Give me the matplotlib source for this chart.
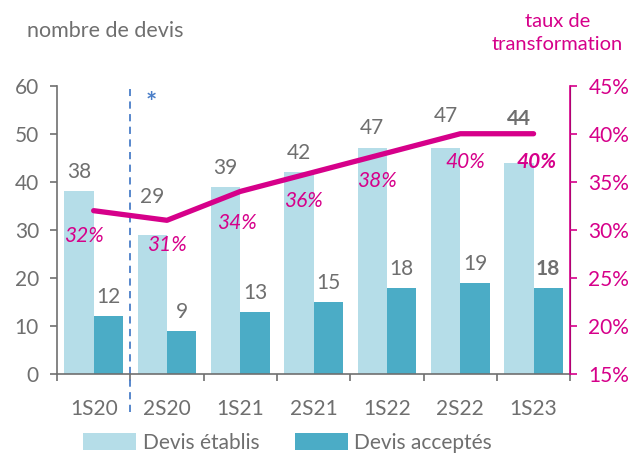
import numpy as np
import matplotlib.pyplot as plt
from matplotlib.transforms import blended_transform_factory

# donnees
periodes = ['1S20', '2S20', '1S21', '2S21', '1S22', '2S22', '1S23']
devis_etablis = [38, 29, 39, 42, 47, 47, 44]
devis_acceptes = [12, 9, 13, 15, 18, 19, 18]
taux = [32, 31, 34, 36, 38, 40, 40]

# couleurs
gris = '#6F6F6F'
bleu_clair = '#B5DDE8'
bleu_fonce = '#4BACC6'
magenta = '#D6008A'

plt.rcParams['font.family'] = ['Lato', 'DejaVu Sans']
plt.rcParams['font.size'] = 15

fig = plt.figure(figsize=(6.36, 4.58), dpi=100)
ax = fig.add_axes([0.0896, 0.183, 0.807, 0.630])
ax2 = ax.twinx()

x = np.arange(len(periodes))
w = 0.4
b1 = ax.bar(x - w / 2, devis_etablis, w, color=bleu_clair, label='Devis établis')
b2 = ax.bar(x + w / 2, devis_acceptes, w, color=bleu_fonce, label='Devis acceptés')

# etiquettes des barres (la derniere en gras), decalage vertical en pixels
n = len(periodes)
dy_etablis = [19, 38, 19, 19, 20, 32, 44]
for i in range(n):
    poids = 'bold' if i == n - 1 else 'normal'
    ax.annotate(str(devis_etablis[i]), (x[i] - w / 2, devis_etablis[i]),
                xytext=(0, dy_etablis[i] * 0.72), textcoords='offset points',
                ha='center', va='center', color=gris, fontsize=15,
                fontweight=poids)
    ax.annotate(str(devis_acceptes[i]), (x[i] + w / 2, devis_acceptes[i]),
                xytext=(0, 19 * 0.72), textcoords='offset points', ha='center',
                va='center', color=gris, fontsize=15, fontweight=poids)

ax.set_ylim(0, 60)
ax.set_xlim(-0.5, n - 0.5)
ax.set_yticks(range(0, 61, 10))
ax.set_xticks(x)
ax.set_xticklabels(periodes)
ax.set_xticks(np.arange(-0.5, n, 1), minor=True)
ax.tick_params(axis='x', which='major', length=0, pad=18, colors=gris)
ax.tick_params(axis='x', which='minor', length=5, color=gris, width=1.2)
ax.tick_params(axis='y', length=5, width=1.2, colors=gris, pad=8)

for s in ['top']:
    ax.spines[s].set_visible(False)
    ax2.spines[s].set_visible(False)
ax.spines['left'].set_color(gris)
ax.spines['bottom'].set_color(gris)
ax.spines['left'].set_linewidth(1.2)
ax.spines['bottom'].set_linewidth(1.2)
ax2.spines['left'].set_visible(False)
ax2.spines['bottom'].set_visible(False)
ax2.spines['right'].set_color(magenta)
ax2.spines['right'].set_linewidth(1.2)

# courbe du taux
ax2.plot(x, taux, color=magenta, lw=3.8, solid_capstyle='round', zorder=5)
ax2.set_ylim(15, 45)
ax2.set_yticks(range(15, 46, 5))
ax2.set_yticklabels([f'{t}%' for t in range(15, 46, 5)])
ax2.tick_params(axis='y', length=5, width=1.2, color=magenta,
                labelcolor=magenta, pad=8)

# decalages des etiquettes de taux (pixels)
dx = [-10, 0, -3, -10, -10, 5, 3]
dy = [-25, -25, -32, -29, -28, -28, -28]
for i in range(n):
    poids = 'bold' if i == n - 1 else 'normal'
    ax2.annotate(f'{taux[i]}%', (x[i], taux[i]), xytext=(dx[i] * 0.72, dy[i] * 0.72),
                 textcoords='offset points', ha='center', va='center',
                 color=magenta, fontsize=15, style='italic', fontweight=poids,
                 zorder=6)

# ligne pointillee + asterisque
tr = blended_transform_factory(ax.transData, ax.transAxes)
ax.plot([0.5, 0.5], [-0.13, 0.99], transform=tr, ls=(0, (4, 3)),
        color='#4A7EC8', lw=1.3, clip_on=False)
ax.text(0.78, 0.94, '*', transform=tr, color='#4A7EC8', fontsize=19,
        fontweight='bold', ha='center', va='center')

# titres des axes
fig.text(0.042, 0.932, 'nombre de devis', color=gris, fontsize=15.5,
         ha='left', va='center')
fig.text(0.876, 0.928, 'taux de\ntransformation', color=magenta, fontsize=14.5,
         ha='center', va='center', linespacing=1.45)

fig.legend(handles=[b1, b2], loc='center', bbox_to_anchor=(0.452, 0.033),
           ncol=2, frameon=False, fontsize=15, labelcolor=gris,
           handlelength=2.55, handleheight=0.9, columnspacing=1.7,
           handletextpad=0.3)

plt.savefig('out.png', dpi=100)
